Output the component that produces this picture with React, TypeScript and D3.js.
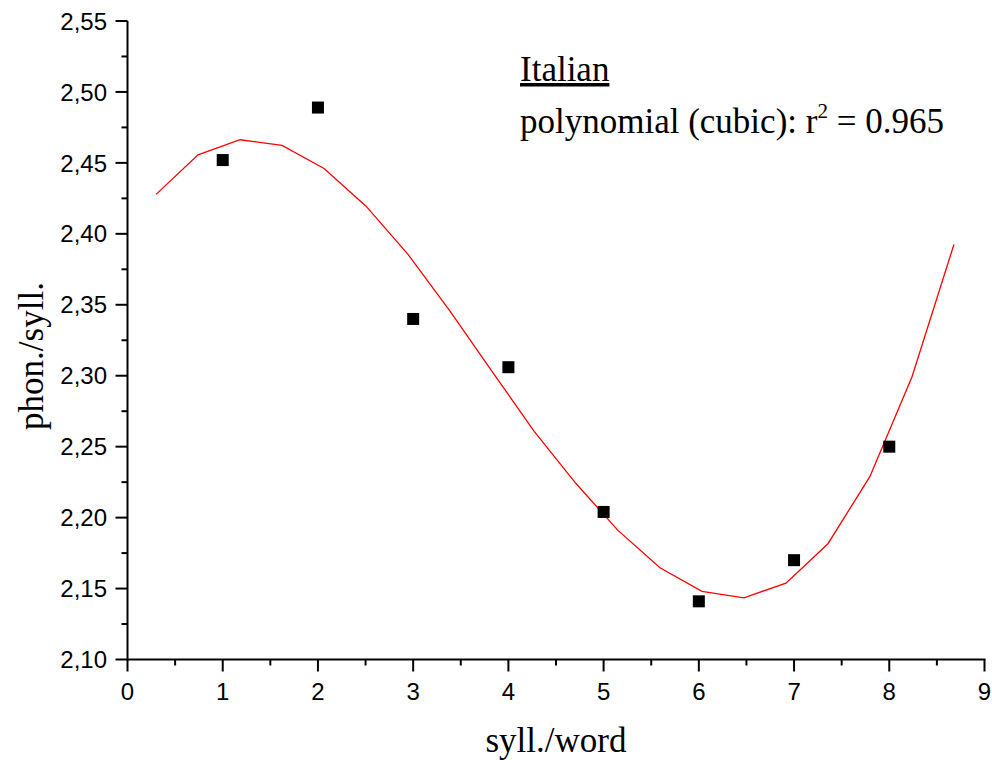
import React from "react";
import * as d3 from "d3";

// Observed means: phonemes per syllable by word length in syllables
const syllPerWord = [1, 2, 3, 4, 5, 6, 7, 8];
const phonPerSyll = [2.452, 2.489, 2.34, 2.306, 2.204, 2.141, 2.17, 2.25];

// Cubic regression curve, sampled vertices
const fitX = [0.3, 0.741, 1.182, 1.623, 2.064, 2.505, 2.946, 3.387, 3.828, 4.269, 4.71, 5.151, 5.592, 6.033, 6.474, 6.915, 7.356, 7.797, 8.238, 8.679];
const fitY = [2.4278, 2.4557, 2.4663, 2.4623, 2.4461, 2.4195, 2.3855, 2.3455, 2.303, 2.261, 2.224, 2.191, 2.1647, 2.148, 2.1435, 2.1538, 2.1816, 2.229, 2.2991, 2.3925];

const xMajorTicks = [0, 1, 2, 3, 4, 5, 6, 7, 8, 9];
const xMinorTicks = [0.5, 1.5, 2.5, 3.5, 4.5, 5.5, 6.5, 7.5, 8.5];
const yMajorTicks = [2.1, 2.15, 2.2, 2.25, 2.3, 2.35, 2.4, 2.45, 2.5, 2.55];
const yMinorTicks = [2.125, 2.175, 2.225, 2.275, 2.325, 2.375, 2.425, 2.475, 2.525];

const W = 992;
const H = 760;
const left = 127.5;
const right = 984.5;
const top = 21;
const bottom = 659.5;

const sans = "'Liberation Sans', Arial, Helvetica, sans-serif";
const serif = "'Liberation Serif', 'Times New Roman', Times, serif";

export default function App() {
  const x = d3.scaleLinear().domain([0, 9]).range([left, right]);
  const y = d3.scaleLinear().domain([2.1, 2.55]).range([bottom, top]);
  const fmt = (v: number) => d3.format(".2f")(v).replace(".", ",");

  const line = d3
    .line<number>()
    .x((_, i) => x(fitX[i]))
    .y((d) => y(d));

  const sq = 12;

  return (
    <svg
      width={W}
      height={H}
      style={{ position: "absolute", left: 0, top: 0, background: "#fff" }}
    >
      {/* fitted curve */}
      <path d={line(fitY) || ""} fill="none" stroke="#ff0000" strokeWidth={1.3} />

      {/* data points */}
      {syllPerWord.map((sx, i) => (
        <rect
          key={i}
          x={x(sx) - sq / 2}
          y={y(phonPerSyll[i]) - sq / 2}
          width={sq}
          height={sq}
          fill="#000"
        />
      ))}

      {/* axes */}
      <line x1={left} x2={left} y1={top} y2={bottom + 1} stroke="#000" strokeWidth={2} />
      <line x1={left - 1} x2={right + 1} y1={bottom} y2={bottom} stroke="#000" strokeWidth={2} />

      {yMajorTicks.map((t) => (
        <g key={"ym" + t}>
          <line x1={left - 12} x2={left} y1={y(t)} y2={y(t)} stroke="#000" strokeWidth={2} />
          <text
            x={107}
            y={y(t)}
            dy="0.36em"
            textAnchor="end"
            fontFamily={sans}
            fontSize={24}
            fill="#000"
          >
            {fmt(t)}
          </text>
        </g>
      ))}
      {yMinorTicks.map((t) => (
        <line key={"yn" + t} x1={left - 6} x2={left} y1={y(t)} y2={y(t)} stroke="#000" strokeWidth={2} />
      ))}

      {xMajorTicks.map((t) => (
        <g key={"xm" + t}>
          <line x1={x(t)} x2={x(t)} y1={bottom} y2={bottom + 12} stroke="#000" strokeWidth={2} />
          <text
            x={x(t)}
            y={700}
            textAnchor="middle"
            fontFamily={sans}
            fontSize={24}
            fill="#000"
          >
            {t}
          </text>
        </g>
      ))}
      {xMinorTicks.map((t) => (
        <line key={"xn" + t} x1={x(t)} x2={x(t)} y1={bottom} y2={bottom + 6} stroke="#000" strokeWidth={2} />
      ))}

      {/* axis titles */}
      <text
        x={556}
        y={752}
        textAnchor="middle"
        fontFamily={serif}
        fontSize={35}
        fill="#000"
      >
        syll./word
      </text>
      <text
        transform="translate(43,356) rotate(-90)"
        textAnchor="middle"
        fontFamily={serif}
        fontSize={35}
        fill="#000"
      >
        phon./syll.
      </text>

      {/* annotation */}
      <text x={520} y={81} fontFamily={serif} fontSize={35} fill="#000" textDecoration="underline">
        Italian
      </text>
      <text x={520} y={133} fontFamily={serif} fontSize={35} fill="#000">
        polynomial (cubic): r
        <tspan fontSize={21} dy={-15}>2</tspan>
        <tspan dy={15}> = 0.965</tspan>
      </text>
    </svg>
  );
}
